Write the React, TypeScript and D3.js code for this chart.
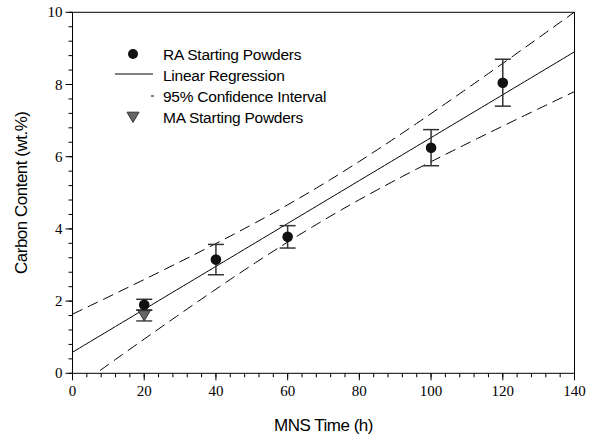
import React from "react";
import * as d3 from "d3";

const raTime = [20, 40, 60, 100, 120];
const raCarbon = [1.9, 3.15, 3.78, 6.25, 8.05];
const raError = [0.15, 0.42, 0.31, 0.5, 0.65];
const maTime = [20];
const maCarbon = [1.6];
const maError = [0.15];
const xTicks = [0, 20, 40, 60, 80, 100, 120, 140];
const yTicks = [0, 2, 4, 6, 8, 10];
const legendLabels = ["RA Starting Powders", "Linear Regression", "95% Confidence Interval", "MA Starting Powders"];

const W = 589, H = 442;
const left = 72.5, right = 574.5, top = 12.3, bottom = 373.3;

export default function App() {
  const x = d3.scaleLinear().domain([0, 140]).range([left, right]);
  const y = d3.scaleLinear().domain([0, 10]).range([bottom, top]);

  // linear regression with 95% confidence band computed from RA data
  const n = raTime.length;
  const mx = d3.mean(raTime)!;
  const my = d3.mean(raCarbon)!;
  const sxx = d3.sum(raTime, (t) => (t - mx) ** 2);
  const sxy = d3.sum(raTime, (t, i) => (t - mx) * (raCarbon[i] - my));
  const slope = sxy / sxx;
  const icpt = my - slope * mx;
  const sse = d3.sum(raTime, (t, i) => (raCarbon[i] - (icpt + slope * t)) ** 2);
  const s = Math.sqrt(sse / (n - 2));
  const tval = 3.182;
  const xs = d3.range(0, 140.01, 1);
  const half = (t: number) => tval * s * Math.sqrt(1 / n + (t - mx) ** 2 / sxx);
  const line = d3.line<[number, number]>().x((d) => x(d[0])).y((d) => y(d[1]));
  const reg = line(xs.map((t) => [t, icpt + slope * t]));
  const up = line(xs.map((t) => [t, icpt + slope * t + half(t)]));
  const lo = line(xs.map((t) => [t, icpt + slope * t - half(t)]));

  const xMinor = d3.range(0, 140.01, 4);
  const yMinor = d3.range(0, 10.01, 0.4);

  const sans = "'Liberation Sans', Arial, sans-serif";
  const serif = "'Liberation Serif', 'Times New Roman', serif";

  const tri = (cx: number, cy: number, r: number) =>
    `M${cx - r},${cy - r * 0.8}L${cx + r},${cy - r * 0.8}L${cx},${cy + r * 0.9}Z`;

  return (
    <svg width={W} height={H} style={{ position: "absolute", left: 0, top: 0, background: "#fff" }}>
      <defs>
        <clipPath id="plot">
          <rect x={left} y={top} width={right - left} height={bottom - top} />
        </clipPath>
      </defs>
      <rect x={0} y={0} width={W} height={H} fill="#fff" />
      {/* frame */}
      <rect x={left} y={top} width={right - left} height={bottom - top} fill="none" stroke="#000" strokeWidth={1} />
      {/* x ticks */}
      {xMinor.map((t) => (
        <line key={"xm" + t} x1={x(t)} x2={x(t)} y1={bottom} y2={bottom + 4} stroke="#000" />
      ))}
      {xTicks.map((t) => (
        <g key={"x" + t}>
          <line x1={x(t)} x2={x(t)} y1={bottom} y2={bottom + 7} stroke="#000" />
          <text x={x(t)} y={bottom + 23} textAnchor="middle" fontFamily={serif} fontSize={15} fill="#000">{t}</text>
        </g>
      ))}
      {yMinor.map((t) => (
        <line key={"ym" + t} x1={left - 4} x2={left} y1={y(t)} y2={y(t)} stroke="#000" />
      ))}
      {yTicks.map((t) => (
        <g key={"y" + t}>
          <line x1={left - 7} x2={left} y1={y(t)} y2={y(t)} stroke="#000" />
          <text x={left - 10} y={y(t) + 5} textAnchor="end" fontFamily={serif} fontSize={15} fill="#000">{t}</text>
        </g>
      ))}
      {/* lines */}
      <g clipPath="url(#plot)" fill="none" stroke="#000" strokeWidth={1}>
        <path d={reg!} />
        <path d={up!} strokeDasharray="11,6" />
        <path d={lo!} strokeDasharray="11,6" />
      </g>
      {/* MA points */}
      {maTime.map((t, i) => (
        <g key={"ma" + i}>
          <line x1={x(t)} x2={x(t)} y1={y(maCarbon[i] - maError[i])} y2={y(maCarbon[i] + maError[i])} stroke="#444" strokeWidth={1.5} />
          <line x1={x(t) - 8} x2={x(t) + 8} y1={y(maCarbon[i] + maError[i])} y2={y(maCarbon[i] + maError[i])} stroke="#444" strokeWidth={1.5} />
          <line x1={x(t) - 8} x2={x(t) + 8} y1={y(maCarbon[i] - maError[i])} y2={y(maCarbon[i] - maError[i])} stroke="#444" strokeWidth={1.5} />
          <path d={tri(x(t), y(maCarbon[i]), 6)} fill="#666" stroke="#333" strokeWidth={1} />
        </g>
      ))}
      {/* RA points */}
      {raTime.map((t, i) => (
        <g key={"ra" + i}>
          <line x1={x(t)} x2={x(t)} y1={y(raCarbon[i] - raError[i])} y2={y(raCarbon[i] + raError[i])} stroke="#333" strokeWidth={1.5} />
          <line x1={x(t) - 8} x2={x(t) + 8} y1={y(raCarbon[i] + raError[i])} y2={y(raCarbon[i] + raError[i])} stroke="#333" strokeWidth={1.5} />
          <line x1={x(t) - 8} x2={x(t) + 8} y1={y(raCarbon[i] - raError[i])} y2={y(raCarbon[i] - raError[i])} stroke="#333" strokeWidth={1.5} />
          <circle cx={x(t)} cy={y(raCarbon[i])} r={5.3} fill="#111" />
        </g>
      ))}
      {/* legend */}
      <g fontFamily={sans} fontSize={15.5} fill="#000" letterSpacing={-0.25}>
        <circle cx={133} cy={54} r={5} fill="#111" />
        <line x1={115} x2={153} y1={74} y2={74} stroke="#000" strokeWidth={1} />
        <line x1={151} x2={154} y1={96} y2={96} stroke="#000" strokeWidth={1} />
        <path d={tri(133, 117, 6)} fill="#666" stroke="#333" strokeWidth={1} />
        {legendLabels.map((l, i) => (
          <text key={l} x={163} y={59.5 + i * 21} >{l}</text>
        ))}
      </g>
      {/* axis titles */}
      <text x={(left + right) / 2} y={431} textAnchor="middle" fontFamily={sans} fontSize={17} letterSpacing={-0.5} fill="#000">MNS Time (h)</text>
      <text transform={`translate(27,${(top + bottom) / 2}) rotate(-90)`} textAnchor="middle" fontFamily={sans} fontSize={17} letterSpacing={-0.5} fill="#000">Carbon Content (wt.%)</text>
    </svg>
  );
}
